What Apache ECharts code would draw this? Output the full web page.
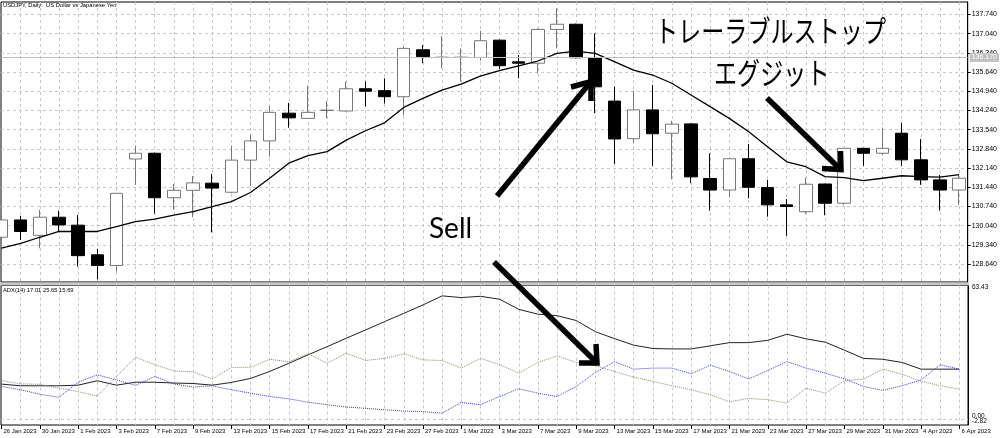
<!DOCTYPE html>
<html><head><meta charset="utf-8">
<script src="https://cdn.jsdelivr.net/npm/echarts@6/dist/echarts.min.js"></script>
<style>html,body{margin:0;padding:0;background:#fff}#c{width:1000px;height:438px}</style>
</head><body><div id="c"></div>
<script>
const dates = ['26 Jan 2023','27 Jan 2023','30 Jan 2023','31 Jan 2023','1 Feb 2023','2 Feb 2023','3 Feb 2023','6 Feb 2023','7 Feb 2023','8 Feb 2023','9 Feb 2023','10 Feb 2023','13 Feb 2023','14 Feb 2023','15 Feb 2023','16 Feb 2023','17 Feb 2023','20 Feb 2023','21 Feb 2023','22 Feb 2023','23 Feb 2023','24 Feb 2023','27 Feb 2023','28 Feb 2023','1 Mar 2023','2 Mar 2023','3 Mar 2023','6 Mar 2023','7 Mar 2023','8 Mar 2023','9 Mar 2023','10 Mar 2023','13 Mar 2023','14 Mar 2023','15 Mar 2023','16 Mar 2023','17 Mar 2023','20 Mar 2023','21 Mar 2023','22 Mar 2023','23 Mar 2023','24 Mar 2023','27 Mar 2023','28 Mar 2023','29 Mar 2023','30 Mar 2023','31 Mar 2023','3 Apr 2023','4 Apr 2023','5 Apr 2023','6 Apr 2023'];
const opens  = [129.62,130.25,129.69,130.35,130.06,128.98,128.59,132.47,132.68,131.06,131.33,131.59,131.26,132.43,133.13,134.14,133.95,134.24,134.22,135.03,134.96,134.74,136.45,136.17,136.17,136.17,136.80,136.01,135.96,137.19,137.38,136.16,134.58,133.21,134.26,133.41,133.75,131.76,131.34,132.48,131.43,130.80,130.55,131.56,130.86,132.86,132.68,133.41,132.44,131.71,131.34];
const highs  = [130.40,130.40,130.62,130.59,130.43,129.19,131.23,132.96,132.71,131.56,131.85,131.93,132.96,133.37,134.40,134.51,135.14,134.58,135.29,135.30,135.41,136.56,136.62,136.95,136.50,137.14,136.82,136.26,137.23,137.96,137.40,137.05,135.10,134.95,135.17,133.86,133.76,132.68,132.52,133.02,131.71,131.01,131.79,131.57,132.87,132.87,133.61,133.79,133.20,131.89,131.89];
const lows   = [129.55,129.52,129.22,129.83,128.55,128.09,128.37,131.53,130.48,130.62,130.35,129.80,131.22,131.49,132.56,133.61,133.93,133.95,134.19,134.38,134.49,134.07,135.96,135.77,135.29,136.05,135.75,135.41,135.59,136.50,136.14,134.14,132.29,133.04,132.22,131.73,131.59,130.59,131.08,131.04,130.37,129.67,130.47,130.42,130.79,132.22,132.62,132.22,131.53,130.59,130.80];
const closes = [130.25,129.83,130.35,130.07,128.95,128.59,131.22,132.68,131.06,131.33,131.60,131.41,132.43,133.13,134.17,133.97,134.17,134.25,135.03,134.94,134.74,136.50,136.20,136.18,136.18,136.78,135.87,135.96,137.19,137.38,136.16,135.10,133.20,134.26,133.39,133.74,131.82,131.34,132.48,131.44,130.80,130.74,131.55,130.86,132.86,132.68,132.86,132.44,131.71,131.34,131.77];
const maLine = [129.22,129.40,129.62,129.83,129.83,129.83,130.01,130.19,130.28,130.43,130.55,130.74,130.92,131.25,131.77,132.32,132.59,132.74,133.16,133.50,133.79,134.35,134.68,134.98,135.20,135.49,135.69,135.86,136.04,136.32,136.40,136.32,136.02,135.71,135.53,135.23,134.80,134.38,133.95,133.47,132.92,132.37,132.19,131.83,131.79,131.68,131.77,131.86,131.83,131.81,131.90];
const adxMain = [16.6,15.8,15.8,15.8,16.1,18.2,16.1,17.5,17.5,17.1,16.9,16.1,17.4,19.3,22.6,26.5,30.5,34.4,38.4,42.3,46.3,50.2,54.2,58.5,57.7,58.3,56.9,52.1,49.8,49.1,46.8,41.5,38.2,35.1,33.5,33.3,33.3,34.8,36.3,36.3,37.4,40.3,38.1,36.5,32.7,28.8,28.4,26.9,23.7,23.7,23.7];
const plusDI = [18.3,16.7,16.5,14.7,13.0,10.9,20.2,29.4,25.8,22.9,22.4,19.0,24.5,24.6,28.4,27.2,31.0,26.5,31.3,27.8,28.8,31.0,28.1,27.8,24.2,28.8,25.9,21.8,26.9,30.0,26.9,25.3,22.6,19.9,17.9,15.8,13.9,11.5,8.2,9.8,9.2,7.6,14.7,12.3,18.3,19.0,23.7,21.3,18.0,15.8,14.2];
const minusDI = [15.5,13.9,11.8,10.3,17.5,21.0,18.6,16.0,20.2,16.7,15.2,15.8,13.9,12.3,10.7,9.6,8.0,6.8,5.7,5.1,4.4,3.8,3.5,2.8,7.9,6.8,10.7,14.4,12.3,10.7,15.5,22.1,27.3,23.7,24.2,24.2,21.5,25.6,22.6,19.0,23.1,27.3,24.2,21.8,19.1,15.5,13.6,15.8,18.6,25.8,23.7];
const priceTicks = [128.64,129.34,130.04,130.74,131.44,132.14,132.84,133.54,134.24,134.94,135.64,136.34,137.04,137.74];
const adxTicks = [63.43,0];
const adxMinTick = [-2.82];
const bidPrice = 136.17;
const chartTitle = 'USDJPY, Daily:  US Dollar vs Japanese Yen';
const adxTitle = 'ADX(14) 17.01 25.65 15.69';
const noteTrail = 'トレーラブルストップ';
const noteExit = 'エグジット';
const noteSell = 'Sell';

const barIdx = dates.map((d, i) => i);
const labelIdx = barIdx.filter(i => i % 2 === 0);
const candleData = barIdx.map(i => [i, opens[i], closes[i], lows[i], highs[i]]);
const pair = arr => arr.map((v, i) => [i, v]);

const X_MIN = -0.026, X_MAX = 50.449;
const ADX_MIN = -2.82, ADX_MAX = 63.43;
const gridCol = '#c8c8c8';
const F = 'Liberation Sans, Arial, sans-serif';

function xBase(g) {
  return {
    gridIndex: g, type: 'value', min: X_MIN, max: X_MAX,
    axisLine: {show: false, onZero: false},
    axisTick: {show: false, customValues: barIdx.slice(1)},
    axisLabel: {show: false},
    splitLine: {show: true, lineStyle: {color: gridCol, type: [3, 3], width: 1}}
  };
}

const chart = echarts.init(document.getElementById('c'), null, {renderer: 'canvas'});

function arrow(shaft, head) {
  const st = {stroke: '#000', lineWidth: 5.5, fill: null, lineCap: 'butt', lineJoin: 'miter'};
  return [
    {type: 'polyline', shape: {points: shaft}, style: st, z: 100},
    {type: 'polyline', shape: {points: head}, style: st, z: 100}
  ];
}

function adxLabel(v) {
  if (v > 60) return '{t|' + v.toFixed(2) + '}';
  return '{z|' + v.toFixed(2) + '}';
}

chart.setOption({
  animation: false,
  backgroundColor: '#ffffff',
  grid: [
    {left: 1, right: 32, top: 2, height: 280, show: true, borderColor: '#000', borderWidth: 1, backgroundColor: 'transparent'},
    {left: 1, right: 32, top: 285.5, height: 139.5, show: true, borderColor: '#000', borderWidth: 1, backgroundColor: 'transparent'}
  ],
  xAxis: [
    xBase(0),
    xBase(1),
    {
      gridIndex: 1, type: 'value', min: X_MIN, max: X_MAX, position: 'bottom',
      axisLine: {show: false, onZero: false},
      axisTick: {show: true, customValues: labelIdx, length: 4, lineStyle: {color: '#000'}},
      axisLabel: {customValues: labelIdx, formatter: v => dates[Math.round(v)], align: 'left', fontSize: 6, fontFamily: F, color: '#000', margin: 3, padding: [0, 0, 0, 2]},
      splitLine: {show: false}
    }
  ],
  yAxis: [
    {
      gridIndex: 0, type: 'value', position: 'right', min: 127.99, max: 138.19,
      axisLine: {show: true, onZero: false, lineStyle: {color: '#000'}},
      axisTick: {show: true, customValues: priceTicks, length: 3, lineStyle: {color: '#000'}},
      axisLabel: {customValues: priceTicks, formatter: v => v.toFixed(3), fontSize: 7, fontFamily: F, color: '#000', margin: 4},
      splitLine: {show: true, lineStyle: {color: gridCol, type: [3, 3], width: 1}}
    },
    {
      gridIndex: 1, type: 'value', position: 'right', min: ADX_MIN, max: ADX_MAX,
      axisLine: {show: true, onZero: false, lineStyle: {color: '#000'}},
      axisTick: {show: false, customValues: [0]},
      axisLabel: {
        customValues: adxTicks, formatter: adxLabel, showMinLabel: true, showMaxLabel: true,
        fontSize: 6.5, fontFamily: F, color: '#000', margin: 4,
        rich: {
          t: {fontSize: 6.5, fontFamily: F, padding: [3, 0, 0, 0]},
          z: {fontSize: 6.5, fontFamily: F, padding: [0, 0, 5, 0]}
        }
      },
      splitLine: {show: true, lineStyle: {color: gridCol, type: [3, 3], width: 1}}
    },
    {
      gridIndex: 1, type: 'value', position: 'right', offset: 0, min: ADX_MIN, max: ADX_MAX,
      axisLine: {show: false, onZero: false},
      axisTick: {show: false, customValues: adxMinTick},
      axisLabel: {
        customValues: adxMinTick, formatter: v => '{b|' + v.toFixed(2) + '}', showMinLabel: true,
        fontSize: 6.5, fontFamily: F, color: '#000', margin: 4,
        rich: {b: {fontSize: 6.5, fontFamily: F, padding: [0, 0, 8, 0]}}
      },
      splitLine: {show: false}
    }
  ],
  series: [
    {
      type: 'candlestick', xAxisIndex: 0, yAxisIndex: 0, data: candleData,
      encode: {x: 0, y: [1, 2, 3, 4]},
      barWidth: 13,
      itemStyle: {color: '#ffffff', color0: '#000000', borderColor: '#777777', borderColor0: '#000000', borderWidth: 1},
      markLine: {
        symbol: 'none', silent: true, animation: false,
        data: [{yAxis: bidPrice}],
        lineStyle: {color: '#c0c0c0', type: 'solid', width: 1},
        label: {position: 'end', formatter: bidPrice.toFixed(3), backgroundColor: '#c0c0c0', color: '#ffffff', fontSize: 7, fontFamily: F, padding: [1, 2], distance: 2}
      }
    },
    {type: 'line', xAxisIndex: 0, yAxisIndex: 0, data: pair(maLine), showSymbol: false, lineStyle: {color: '#000', width: 1.3}, z: 3},
    {type: 'line', xAxisIndex: 1, yAxisIndex: 1, data: pair(adxMain), showSymbol: false, lineStyle: {color: '#222', width: 1}},
    {type: 'line', xAxisIndex: 1, yAxisIndex: 1, data: pair(plusDI), showSymbol: false, lineStyle: {color: '#8c8c66', width: 1, type: 'dotted'}},
    {type: 'line', xAxisIndex: 1, yAxisIndex: 1, data: pair(minusDI), showSymbol: false, lineStyle: {color: '#3a3ad0', width: 1, type: 'dotted'}}
  ],
  graphic: [
    {type: 'rect', shape: {x: 0, y: 282.5, width: 969, height: 3}, style: {fill: '#c8c8c8'}, z: 50},
    {type: 'text', left: 3, top: 2, style: {text: chartTitle, font: '5.8px ' + F, fill: '#000'}, z: 60},
    {type: 'text', left: 3, top: 287, style: {text: adxTitle, font: '5.8px ' + F, fill: '#000'}, z: 60},
    {type: 'text', x: 655, y: 16, scaleX: 0.77, style: {text: noteTrail, font: '30px "Noto Sans CJK JP"', fill: '#000'}, z: 100},
    {type: 'text', x: 714, y: 58, scaleX: 0.77, style: {text: noteExit, font: '30px "Noto Sans CJK JP"', fill: '#000'}, z: 100},
    {type: 'text', x: 429, y: 215, style: {text: noteSell, font: '28px Lato', fill: '#000'}, z: 100},
    ...arrow([[497, 196], [589, 84]], [[571, 87], [591, 81.5], [591, 101]]),
    ...arrow([[494, 262], [595, 361]], [[596, 344], [597, 363], [579, 363]]),
    ...arrow([[767, 98], [838, 167]], [[822, 168.5], [841, 169.5], [840.5, 151]])
  ]
});
</script></body></html>
